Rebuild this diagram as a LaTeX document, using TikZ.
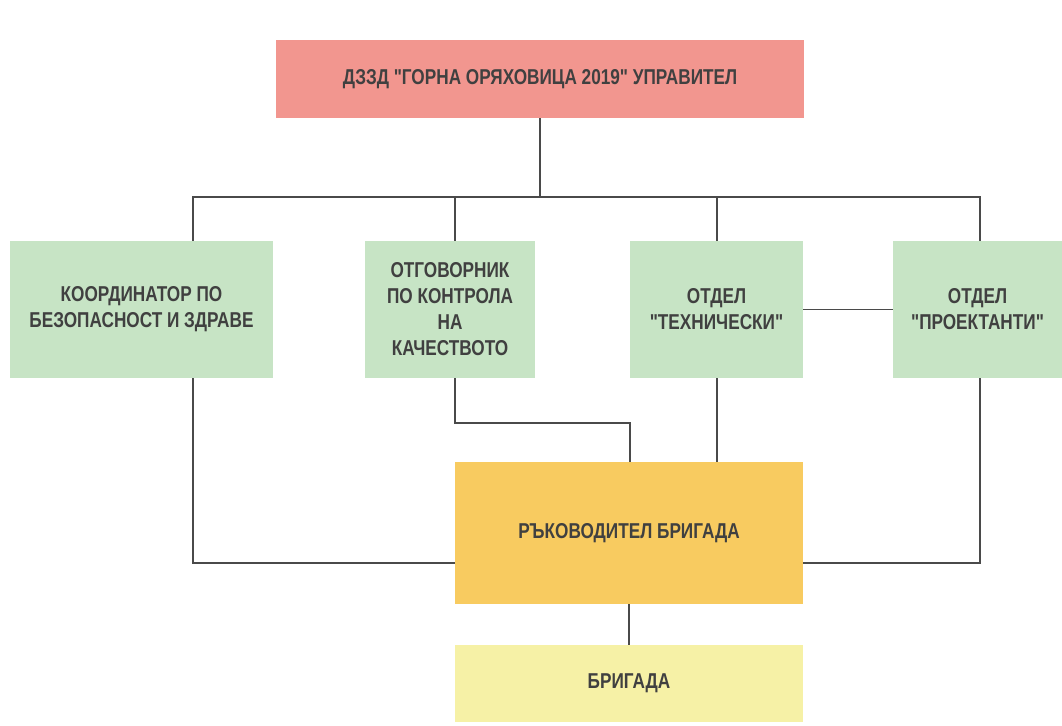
\documentclass[tikz,border=0pt]{standalone}
\usepackage{fontspec}
\newfontfamily\boxfont{Liberation Sans}[FakeStretch=0.8]
\definecolor{topc}{HTML}{F2968F}
\definecolor{greenc}{HTML}{C7E4C5}
\definecolor{orangec}{HTML}{F8CB60}
\definecolor{yellowc}{HTML}{F6F1A6}
\definecolor{txt}{HTML}{404040}
\definecolor{linec}{HTML}{4A4A4A}
\tikzset{
  box/.style={draw=none, inner sep=0pt, text=txt, align=center,
    font=\boxfont\fontsize{21.5}{26}\selectfont\bfseries},
  conn/.style={draw=linec, line width=1.4pt},
}
\begin{document}
\begin{tikzpicture}[x=1pt,y=-1pt]
\useasboundingbox (0,0) rectangle (1062,725);
\fill[white] (0,0) rectangle (1062,725);
% boxes
\node[box, fill=topc, minimum width=528pt, minimum height=78pt] (top) at (540,79) {ДЗЗД "ГОРНА ОРЯХОВИЦА 2019" УПРАВИТЕЛ};
\node[box, fill=greenc, minimum width=263pt, minimum height=137pt] (b1) at (141.5,309.5) {КООРДИНАТОР ПО\\БЕЗОПАСНОСТ И ЗДРАВЕ};
\node[box, fill=greenc, minimum width=170pt, minimum height=137pt] (b2) at (450,309.5) {ОТГОВОРНИК\\ПО КОНТРОЛА\\НА\\КАЧЕСТВОТО};
\node[box, fill=greenc, minimum width=173pt, minimum height=137pt] (b3) at (716.5,309.5) {ОТДЕЛ\\"ТЕХНИЧЕСКИ"};
\node[box, fill=greenc, minimum width=169pt, minimum height=137pt] (b4) at (977.5,309.5) {ОТДЕЛ\\"ПРОЕКТАНТИ"};
\node[box, fill=orangec, minimum width=348pt, minimum height=142pt] (rb) at (629,533) {РЪКОВОДИТЕЛ БРИГАДА};
\node[box, fill=yellowc, minimum width=348pt, minimum height=77pt] (br) at (629,683.5) {БРИГАДА};
% bus
\coordinate (bus) at (540,197);
\draw[conn] (top.south) -- (bus);
\draw[conn] (b1.north -| 193,0) |- (bus) -| (b4.north -| 980,0);
\draw[conn] (455,197) -- (b2.north -| 455,0);
\draw[conn] (717,197) -- (b3.north -| 717,0);
\draw[conn] (b3.east) -- (b4.west);
% lower connectors
\draw[conn] (b2.south -| 455,0) |- (630,423) -- (rb.north -| 630,0);
\draw[conn] (b3.south -| 717,0) -- (rb.north -| 717,0);
\draw[conn] (b1.south -| 193,0) |- (rb.west |- 0,563);
\draw[conn] (b4.south -| 980,0) |- (rb.east |- 0,563);
\draw[conn] (rb.south) -- (br.north);
\end{tikzpicture}
\end{document}
